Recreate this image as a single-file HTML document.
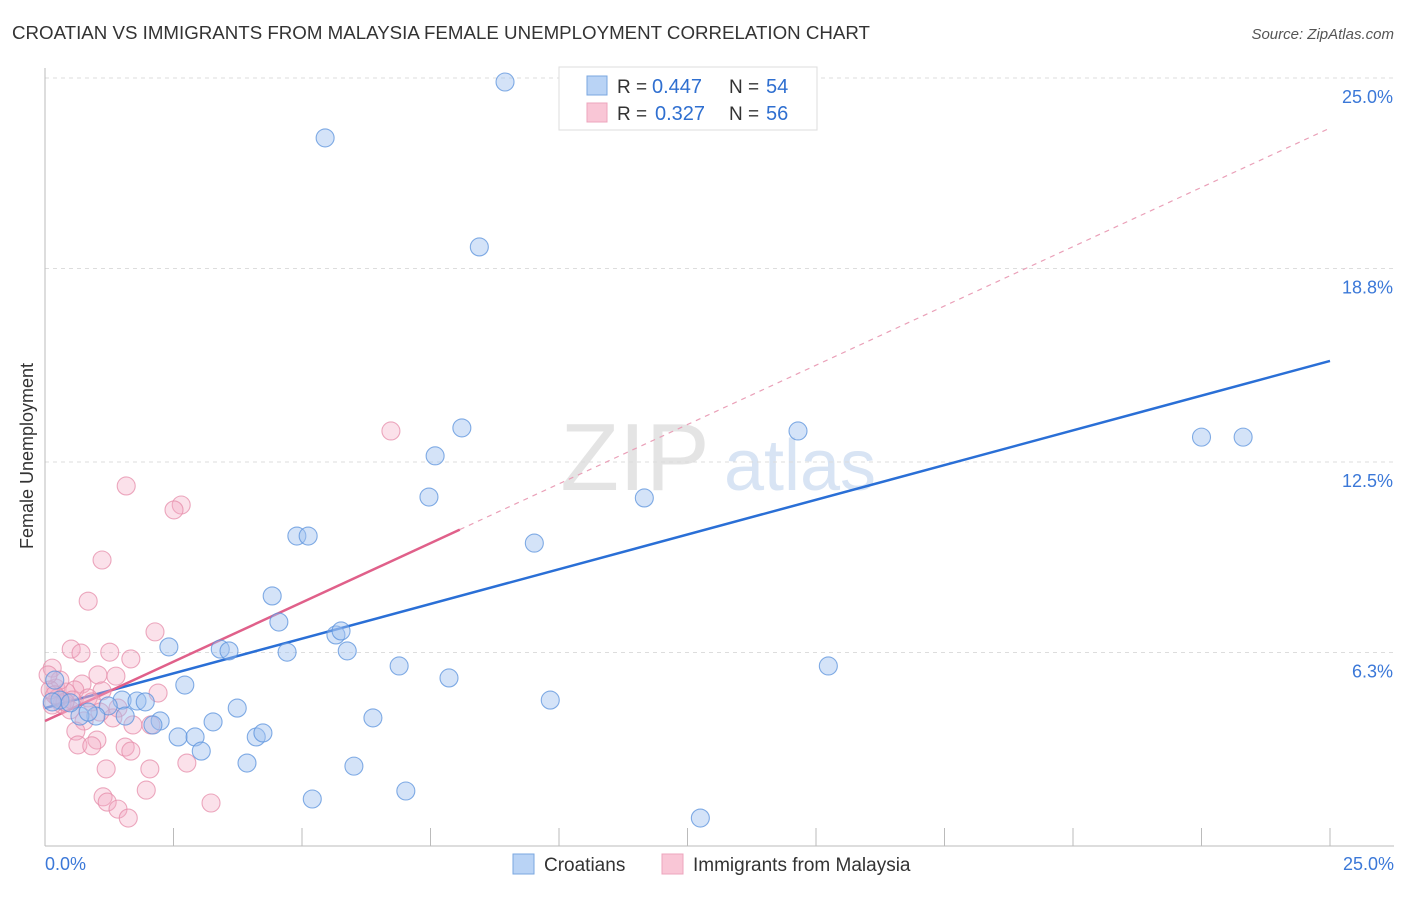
<!DOCTYPE html>
<html><head><meta charset="utf-8"><style>
body{margin:0;background:#fff;font-family:"Liberation Sans",sans-serif;}
svg text{font-family:"Liberation Sans",sans-serif;}
</style></head><body>
<svg id="chart" width="1406" height="892" xmlns="http://www.w3.org/2000/svg">
<text x="12" y="39" font-size="18" fill="#333" textLength="858" lengthAdjust="spacingAndGlyphs">CROATIAN VS IMMIGRANTS FROM MALAYSIA FEMALE UNEMPLOYMENT CORRELATION CHART</text>
<text x="1394" y="39" font-size="15" fill="#555" font-style="italic" text-anchor="end">Source: ZipAtlas.com</text>
<text x="635" y="490" font-size="96" fill="#e4e4e4" font-family="Liberation Serif" text-anchor="middle">ZIP</text>
<text x="800" y="490" font-size="72" fill="#d8e4f4" text-anchor="middle">atlas</text>
<g id="grid"></g><g id="axes"></g><g id="lines"></g><g id="pts"></g>
<text x="33" y="456" font-size="18" fill="#333" transform="rotate(-90 33 456)" text-anchor="middle">Female Unemployment</text>
<g>
<rect x="559" y="67" width="258" height="63" fill="#fff" stroke="#ddd"/>
<rect x="587" y="76" width="20" height="19" fill="#b9d3f5" stroke="#7aa7e0"/>
<rect x="587" y="103" width="20" height="19" fill="#f9c6d6" stroke="#eda5bd"/>
<text x="617" y="93" font-size="19" fill="#333">R =</text>
<text x="652" y="93" font-size="20" fill="#2f6fd0">0.447</text>
<text x="729" y="93" font-size="19" fill="#333">N =</text>
<text x="766" y="93" font-size="20" fill="#2f6fd0">54</text>
<text x="617" y="120" font-size="19" fill="#333">R =</text>
<text x="655" y="120" font-size="20" fill="#2f6fd0">0.327</text>
<text x="729" y="120" font-size="19" fill="#333">N =</text>
<text x="766" y="120" font-size="20" fill="#2f6fd0">56</text>
</g>
<g>
<rect x="513" y="854" width="21" height="20" fill="#b9d3f5" stroke="#7aa7e0"/>
<text x="544" y="871" font-size="19" fill="#333">Croatians</text>
<rect x="662" y="854" width="21" height="20" fill="#f9c6d6" stroke="#eda5bd"/>
<text x="693" y="871" font-size="19" fill="#333">Immigrants from Malaysia</text>
</g>
</svg>
<script>
const yTicks=[6.3,12.5,18.8,25.0];
const yTickLabels=["6.3%","12.5%","18.8%","25.0%"];
const xTickLabels=["0.0%","25.0%"];
const blueX=[8.95,5.45,8.45,8.11,7.59,7.47,4.90,5.12,9.52,11.66,14.65,22.50,23.31,4.42,4.55,5.66,5.76,5.88,4.71,3.41,3.58,2.41,6.89,15.24,7.86,2.72,9.83,3.74,6.38,3.27,2.24,2.10,2.59,2.92,3.04,4.11,4.24,3.93,6.01,5.20,7.02,12.75,1.50,1.79,1.95,1.23,1.56,0.99,0.68,0.84,0.19,0.29,0.49,0.14];
const blueY=[24.87,23.05,19.50,13.61,12.70,11.36,10.09,10.09,9.86,11.33,13.51,13.31,13.31,8.14,7.29,6.87,7.00,6.35,6.31,6.41,6.35,6.48,5.86,5.86,5.47,5.24,4.75,4.49,4.17,4.04,4.07,3.94,3.55,3.55,3.09,3.55,3.68,2.70,2.60,1.53,1.79,0.91,4.75,4.72,4.69,4.56,4.23,4.23,4.23,4.36,5.40,4.75,4.66,4.69];
const pinkX=[6.73,1.58,2.65,2.51,1.11,0.84,2.14,0.51,0.70,1.26,1.67,0.14,1.03,1.38,0.72,0.21,0.58,1.11,2.20,0.84,0.91,0.33,1.42,0.49,0.14,0.25,0.76,1.32,1.71,2.06,0.60,1.01,0.64,0.91,1.56,1.67,1.19,2.04,2.76,1.97,1.13,1.21,1.42,1.62,3.23,0.41,0.29,0.10,0.53,0.39,0.19,1.07,0.06];
const pinkY=[13.51,11.72,11.10,10.94,9.31,7.97,6.97,6.41,6.28,6.31,6.09,5.79,5.57,5.53,5.27,5.14,5.08,5.05,4.98,4.82,4.69,4.62,4.49,4.43,4.59,4.82,4.07,4.17,3.94,3.94,3.74,3.45,3.29,3.26,3.22,3.09,2.51,2.51,2.70,1.82,1.60,1.43,1.20,0.91,1.40,5.01,5.40,5.08,4.75,4.69,4.92,4.36,5.57];
const blueFit=[4.49,15.79];      // y at x=0, x=25
const pinkFit=[4.07,0.772,8.07]; // intercept, slope, solid-end x
const X0=45,X1=1330,Y0=846,YT=78;
const sx=v=>X0+v/25*(X1-X0);
const sy=v=>Y0-v/25*(Y0-YT);
const NS="http://www.w3.org/2000/svg";
function mk(p,t,a){const e=document.createElementNS(NS,t);for(const k in a)e.setAttribute(k,a[k]);document.getElementById(p).appendChild(e);return e;}
yTicks.forEach((t,i)=>{
  const g=mk('grid','line',{x1:X0,x2:1394,y1:sy(t),y2:sy(t),stroke:'#ddd','stroke-dasharray':'4,4'});
  
  
  const l=mk('grid','text',{x:1393,y:sy(t)+25,'font-size':18,fill:'#3b78d8','text-anchor':'end'});
  l.textContent=yTickLabels[i];
  
  
});
const ax=mk('axes','line',{x1:X0,x2:X0,y1:68,y2:Y0,stroke:'#bbb'});


const bx=mk('axes','line',{x1:X0,x2:1394,y1:Y0,y2:Y0,stroke:'#bbb'});


for(let i=1;i<=10;i++){
  const t=mk('axes','line',{x1:sx(i*2.5),x2:sx(i*2.5),y1:828,y2:Y0,stroke:'#bbb'});
  
  
}
[[0,'start',45],[25,'end',1394]].forEach((d,i)=>{
  const l=mk('axes','text',{x:d[2],y:870,'font-size':18,fill:'#3b78d8','text-anchor':d[1]});
  l.textContent=xTickLabels[i];
  
  
});
function dot(x,y,fill,stroke,name){
  const c=mk('pts','circle',{cx:sx(x),cy:sy(y),r:9,fill:fill,stroke:stroke,'stroke-width':1.1});
  
  
}
pinkX.forEach((x,i)=>dot(x,pinkY[i],'rgba(244,170,196,0.35)','rgba(230,140,170,0.75)','malaysia-point'));
blueX.forEach((x,i)=>dot(x,blueY[i],'rgba(160,194,240,0.45)','rgba(90,145,220,0.75)','croatian-point'));
const bl=mk('lines','line',{x1:sx(0),y1:sy(blueFit[0]),x2:sx(25),y2:sy(blueFit[1]),stroke:'#2a6fd6','stroke-width':2.5});


const pf=x=>pinkFit[0]+pinkFit[1]*x;
const pd=mk('lines','line',{x1:sx(pinkFit[2]),y1:sy(pf(pinkFit[2])),x2:sx(25),y2:sy(pf(25)),stroke:'#eaa0b8','stroke-width':1.2,'stroke-dasharray':'5,5'});


const pl=mk('lines','line',{x1:sx(0),y1:sy(pf(0)),x2:sx(pinkFit[2]),y2:sy(pf(pinkFit[2])),stroke:'#e0608a','stroke-width':2.5});


</script>
</body></html>
